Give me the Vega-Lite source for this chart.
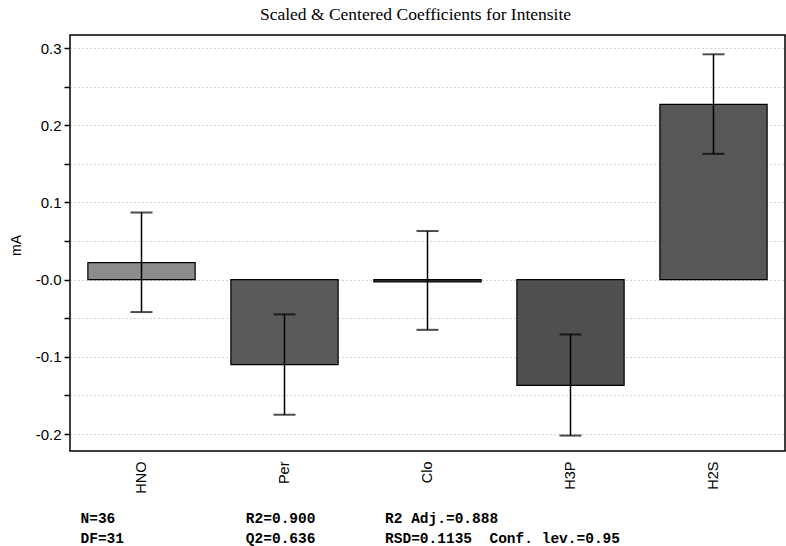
{
  "$schema": "https://vega.github.io/schema/vega-lite/v6.json",
  "autosize": "none",
  "width": 715,
  "height": 416,
  "padding": {"left": 70, "top": 35, "right": 1, "bottom": 95},
  "background": "white",
  "config": {
    "view": {"stroke": "black", "strokeWidth": 1.5},
    "font": "Liberation Sans"
  },
  "title": {
    "text": "Scaled & Centered Coefficients for Intensite",
    "font": "Liberation Serif",
    "fontSize": 17.5,
    "fontWeight": "normal",
    "color": "black",
    "anchor": "middle",
    "dx": -12,
    "offset": 12
  },
  "data": {
    "values": [
      {"term": "HNO", "coef": 0.022, "lo": -0.042, "hi": 0.087},
      {"term": "Per", "coef": -0.110, "lo": -0.175, "hi": -0.045},
      {"term": "Clo", "coef": -0.003, "lo": -0.065, "hi": 0.063},
      {"term": "H3P", "coef": -0.137, "lo": -0.202, "hi": -0.071},
      {"term": "H2S", "coef": 0.227, "lo": 0.163, "hi": 0.292}
    ]
  },
  "encoding": {
    "x": {
      "field": "term",
      "type": "nominal",
      "sort": null,
      "scale": {"paddingInner": 0.25, "paddingOuter": 0.125},
      "axis": {
        "labelAngle": -90,
        "labelFont": "Liberation Sans",
        "labelFontSize": 14.5,
        "labelColor": "black",
        "labelPadding": 10,
        "ticks": false,
        "domain": false,
        "title": [
          "N=36\u00a0\u00a0\u00a0\u00a0\u00a0\u00a0\u00a0\u00a0\u00a0\u00a0\u00a0\u00a0\u00a0\u00a0\u00a0R2=0.900\u00a0\u00a0\u00a0\u00a0\u00a0\u00a0\u00a0\u00a0R2 Adj.=0.888",
          "DF=31\u00a0\u00a0\u00a0\u00a0\u00a0\u00a0\u00a0\u00a0\u00a0\u00a0\u00a0\u00a0\u00a0\u00a0Q2=0.636\u00a0\u00a0\u00a0\u00a0\u00a0\u00a0\u00a0\u00a0RSD=0.1135\u00a0\u00a0Conf. lev.=0.95"
        ],
        "titleFont": "Liberation Mono",
        "titleFontSize": 14.5,
        "titleFontWeight": "bold",
        "titleColor": "black",
        "titleAlign": "left",
        "titleAnchor": "start",
        "titleBaseline": "alphabetic",
        "titleX": 10,
        "titleY": 71,
        "titleLineHeight": 20
      }
    }
  },
  "layer": [
    {
      "mark": {"type": "bar", "stroke": "black", "strokeWidth": 1.2},
      "encoding": {
        "y": {
          "field": "coef",
          "type": "quantitative",
          "scale": {"domain": [-0.222, 0.317], "nice": false, "zero": false},
          "axis": {
            "values": [-0.2, -0.15, -0.1, -0.05, 0, 0.05, 0.1, 0.15, 0.2, 0.25, 0.3],
            "labelExpr": "round(abs(datum.value) * 20) % 2 == 1 ? '' : (datum.value == 0 ? '-0.0' : ((datum.value < 0 ? '-' : '') + format(abs(datum.value), '.1f')))",
            "labelFont": "Liberation Sans",
            "labelFontSize": 15,
            "labelColor": "black",
            "labelPadding": 3,
            "tickColor": "black",
            "tickSize": 6,
            "tickWidth": 1.5,
            "domain": false,
            "grid": true,
            "gridColor": "#a8a8a8",
            "gridDash": [1, 3],
            "gridWidth": 1,
            "title": "mA",
            "titleFont": "Liberation Sans",
            "titleFontSize": 14,
            "titleFontWeight": "normal",
            "titleColor": "black",
            "titleAngle": -90,
            "titleAlign": "center",
            "titleBaseline": "middle",
            "titleX": -54,
            "titleY": 210
          }
        },
        "color": {
          "field": "term",
          "type": "nominal",
          "scale": {"domain": ["HNO", "Per", "Clo", "H3P", "H2S"], "range": ["#8c8c8c", "#5a5a5a", "#333333", "#4f4f4f", "#575757"]},
          "legend": null
        }
      }
    },
    {
      "mark": {"type": "rule", "color": "black", "strokeWidth": 1.5},
      "encoding": {"y": {"datum": 0}}
    },
    {
      "mark": {"type": "rule", "color": "black", "strokeWidth": 1.5},
      "encoding": {
        "y": {"field": "lo", "type": "quantitative"},
        "y2": {"field": "hi"}
      }
    },
    {
      "mark": {"type": "tick", "color": "black", "size": 22, "thickness": 2, "orient": "horizontal"},
      "encoding": {"y": {"field": "lo", "type": "quantitative"}}
    },
    {
      "mark": {"type": "tick", "color": "black", "size": 22, "thickness": 2, "orient": "horizontal"},
      "encoding": {"y": {"field": "hi", "type": "quantitative"}}
    }
  ]
}
